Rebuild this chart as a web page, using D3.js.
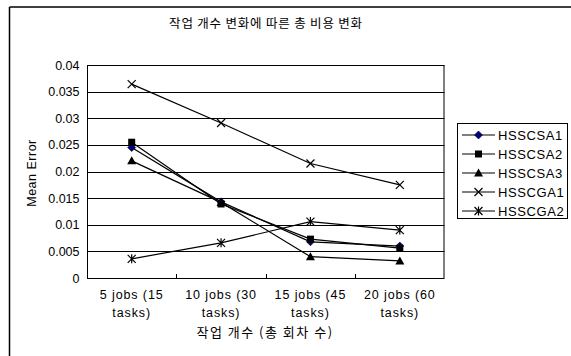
<!DOCTYPE html>
<html><head><meta charset="utf-8">
<script src="https://cdn.jsdelivr.net/npm/d3@7"></script>
<style>body{margin:0;background:#fff}svg{display:block}text{font-family:"Liberation Sans",Arial,sans-serif;fill:#000}</style>
</head><body>
<script>
const categories = [["5 jobs (15","tasks)"],["10 jobs (30","tasks)"],["15 jobs (45","tasks)"],["20 jobs (60","tasks)"]];
const seriesNames = ["HSSCSA1","HSSCSA2","HSSCSA3","HSSCGA1","HSSCGA2"];
const HSSCSA1 = [0.0245, 0.0143, 0.0068, 0.0060];
const HSSCSA2 = [0.0255, 0.0139, 0.0073, 0.0056];
const HSSCSA3 = [0.0220, 0.0142, 0.0040, 0.0032];
const HSSCGA1 = [0.0364, 0.0291, 0.0215, 0.0175];
const HSSCGA2 = [0.0036, 0.0066, 0.0106, 0.0090];
const yTicks = [0,0.005,0.01,0.015,0.02,0.025,0.03,0.035,0.04];
const title = "작업 개수 변화에 따른 총 비용 변화";
const xTitle = "작업 개수 (총 회차 수)";
const yTitle = "Mean Error";
const seriesData = [HSSCSA1,HSSCSA2,HSSCSA3,HSSCGA1,HSSCGA2];
const markers = ["diamond","square","triangle","x","star"];

const W=571,H=356;
const svg=d3.select("body").append("svg").attr("width",W).attr("height",H);
svg.append("line").attr("x1",9.5).attr("x2",W).attr("y1",7).attr("y2",7).attr("stroke","#000").attr("stroke-width",1.5);
svg.append("line").attr("x1",9.5).attr("x2",9.5).attr("y1",7).attr("y2",H).attr("stroke","#000").attr("stroke-width",1.5);

const L=87,R=444.5,T=65,B=278;
const x=d3.scaleBand().domain(d3.range(categories.length)).range([L,R]);
const y=d3.scaleLinear().domain([0,0.04]).range([B,T]);

svg.append("text").attr("x",266).attr("y",28).attr("text-anchor","middle").style("font-size","12.5px")
  .style("letter-spacing","0.8px").style("font-family","'Noto Sans CJK KR',sans-serif").text(title);

svg.append("g").selectAll("line").data(yTicks.filter(d=>d>0)).join("line")
  .attr("x1",L).attr("x2",R).attr("y1",d=>Math.round(y(d))+0.5).attr("y2",d=>Math.round(y(d))+0.5)
  .attr("stroke","#000").attr("stroke-width",1);
svg.append("rect").attr("x",L+0.5).attr("y",T+0.5).attr("width",R-L-1).attr("height",B-T).attr("fill","none").attr("stroke","#000");

const ya=svg.append("g").attr("transform",`translate(${L+0.5},0)`)
  .call(d3.axisLeft(y).tickValues(yTicks).tickFormat(d=>d3.format("")(+d.toFixed(3))).tickSize(0).tickPadding(8));
ya.select(".domain").remove();
ya.selectAll("text").style("font-size","12.5px").style("font-family","'Liberation Sans',Arial,sans-serif").attr("fill","#000");

const xa=svg.append("g").attr("transform",`translate(0,${B+0.5})`)
  .call(d3.axisBottom(x).tickSize(0).tickFormat(""));
xa.select(".domain").remove();
svg.append("g").selectAll("line").data(d3.range(1,categories.length)).join("line")
  .attr("x1",d=>Math.round(x(d))+0.5).attr("x2",d=>Math.round(x(d))+0.5).attr("y1",B-4).attr("y2",B+0.5).attr("stroke","#000");
const xl=svg.append("g").selectAll("text").data(categories).join("text")
  .attr("x",(d,i)=>x(i)+x.bandwidth()/2).attr("y",299).attr("text-anchor","middle")
  .style("font-size","12.5px").style("letter-spacing","0.9px");
xl.append("tspan").text(d=>d[0]);
xl.append("tspan").attr("x",(d,i)=>x(i)+x.bandwidth()/2).attr("dy",18).text(d=>d[1]);

svg.append("text").attr("x",265).attr("y",337).attr("text-anchor","middle").style("font-size","13px")
  .style("letter-spacing","1.5px").style("font-family","'Noto Sans CJK KR',sans-serif").text(xTitle);
svg.append("text").attr("transform","translate(36,173) rotate(-90)").attr("text-anchor","middle")
  .style("font-size","12.5px").style("letter-spacing","0.5px").text(yTitle);

function drawMarker(g,type,cx,cy){
  if(type==="diamond") g.append("path").attr("d",`M${cx},${cy-4}L${cx+4},${cy}L${cx},${cy+4}L${cx-4},${cy}Z`).attr("fill","#000080").attr("stroke","#000").attr("stroke-width",0.6);
  else if(type==="square") g.append("rect").attr("x",cx-3.5).attr("y",cy-3.5).attr("width",7).attr("height",7).attr("fill","#000");
  else if(type==="triangle") g.append("path").attr("d",`M${cx},${cy-4.5}L${cx+4.5},${cy+3.5}L${cx-4.5},${cy+3.5}Z`).attr("fill","#000");
  else if(type==="x") g.append("path").attr("d",`M${cx-4},${cy-4}L${cx+4},${cy+4}M${cx-4},${cy+4}L${cx+4},${cy-4}`).attr("stroke","#000").attr("stroke-width",1.2);
  else if(type==="star") g.append("path").attr("d",`M${cx-4},${cy-4}L${cx+4},${cy+4}M${cx-4},${cy+4}L${cx+4},${cy-4}M${cx},${cy-4.5}L${cx},${cy+4.5}`).attr("stroke","#000").attr("stroke-width",1.2);
}

const line=d3.line().x((d,i)=>x(i)+x.bandwidth()/2).y(d=>y(d));
seriesData.forEach((s,k)=>{
  const g=svg.append("g");
  g.append("path").attr("d",line(s)).attr("fill","none").attr("stroke","#000").attr("stroke-width",1.2);
  s.forEach((v,i)=>drawMarker(g,markers[k],x(i)+x.bandwidth()/2,y(v)));
});

const lg=svg.append("g");
lg.append("rect").attr("x",457.5).attr("y",123.5).attr("width",110).attr("height",95).attr("fill","#fff").attr("stroke","#000");
seriesNames.forEach((n,k)=>{
  const cy=135+k*19;
  lg.append("line").attr("x1",462).attr("x2",495).attr("y1",cy).attr("y2",cy).attr("stroke","#000").attr("stroke-width",1.2);
  drawMarker(lg,markers[k],478.5,cy);
  lg.append("text").attr("x",498).attr("y",cy+4.5).style("font-size","13px").style("letter-spacing","0.6px").text(n);
});
</script>
</body></html>
